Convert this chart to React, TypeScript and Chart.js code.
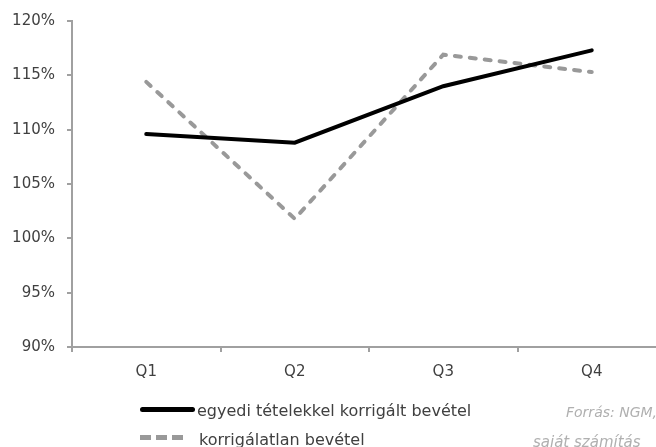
import React, { useEffect, useRef } from "react";
import { Chart, registerables } from "chart.js";

Chart.register(...registerables);

const categories = ["Q1", "Q2", "Q3", "Q4"];
const correctedRevenue = [109.6, 108.8, 114.0, 117.3];
const uncorrectedRevenue = [114.4, 101.8, 116.9, 115.3];
const seriesLabels = ["egyedi tételekkel korrigált bevétel", "korrigálatlan bevétel"];
const sourceLines = ["Forrás: NGM,", "saját számítás"];
const yMin = 90;
const yMax = 120;
const yStep = 5;

const FONT = "'DejaVu Sans', sans-serif";
const TEXT = "#404040";
const AXIS = "#a0a0a0";

export default function App() {
  const ref = useRef<HTMLCanvasElement | null>(null);

  useEffect(() => {
    if (!ref.current) return;
    const chart = new Chart(ref.current, {
      type: "line",
      data: {
        labels: categories,
        datasets: [
          {
            label: seriesLabels[0],
            data: correctedRevenue,
            borderColor: "#000000",
            borderWidth: 4,
            borderCapStyle: "round",
            borderJoinStyle: "miter",
            pointRadius: 0,
            tension: 0,
          },
          {
            label: seriesLabels[1],
            data: uncorrectedRevenue,
            borderColor: "#999999",
            borderWidth: 4,
            borderDash: [6, 9],
            borderCapStyle: "round",
            pointRadius: 0,
            tension: 0,
          },
        ],
      },
      options: {
        animation: false,
        responsive: false,
        maintainAspectRatio: false,
        layout: { padding: { top: 19, right: 14, left: 0, bottom: 0 } },
        plugins: { legend: { display: false }, tooltip: { enabled: false } },
        scales: {
          x: {
            offset: true,
            grid: {
              offset: true,
              drawOnChartArea: false,
              drawTicks: true,
              tickLength: 5,
              color: AXIS,
              lineWidth: 2,
            },
            border: { color: AXIS, width: 2 },
            ticks: { color: TEXT, font: { family: FONT, size: 15 }, padding: 11 },
            afterFit: (s: any) => {
              s.height = 100;
            },
          },
          y: {
            min: yMin,
            max: yMax,
            grid: {
              drawOnChartArea: false,
              drawTicks: true,
              tickLength: 5,
              color: AXIS,
              lineWidth: 2,
            },
            border: { color: AXIS, width: 2 },
            ticks: {
              stepSize: yStep,
              color: TEXT,
              font: { family: FONT, size: 15 },
              padding: 12,
              callback: (v: any) => `${v}%`,
            },
            afterFit: (s: any) => {
              s.width = 72;
            },
          },
        },
      },
    });
    return () => chart.destroy();
  }, []);

  return (
    <div
      style={{
        position: "fixed",
        left: 0,
        top: 0,
        width: 656,
        height: 447,
        overflow: "hidden",
        background: "#fff",
        fontFamily: FONT,
      }}
    >
      <canvas ref={ref} width={680} height={447} style={{ display: "block" }} />
      <div
        style={{
          position: "absolute",
          left: 140,
          top: 407,
          width: 55,
          height: 5,
          borderRadius: 2.5,
          background: "#000",
        }}
      />
      <div
        style={{
          position: "absolute",
          left: 140,
          top: 435,
          width: 45,
          height: 5,
          background:
            "repeating-linear-gradient(90deg, #999 0px, #999 11px, transparent 11px, transparent 16px)",
        }}
      />
      <div
        style={{
          position: "absolute",
          left: 197,
          top: 401,
          fontSize: 16,
          lineHeight: "20px",
          color: TEXT,
          whiteSpace: "nowrap",
        }}
      >
        {seriesLabels[0]}
      </div>
      <div
        style={{
          position: "absolute",
          left: 199,
          top: 430,
          fontSize: 16,
          lineHeight: "20px",
          color: TEXT,
          whiteSpace: "nowrap",
        }}
      >
        {seriesLabels[1]}
      </div>
      <div
        style={{
          position: "absolute",
          left: 566,
          top: 402,
          fontSize: 14,
          lineHeight: "20px",
          color: "#b0b0b0",
          fontStyle: "italic",
          whiteSpace: "nowrap",
        }}
      >
        {sourceLines[0]}
      </div>
      <div
        style={{
          position: "absolute",
          left: 533,
          top: 432,
          fontSize: 15,
          lineHeight: "20px",
          color: "#b0b0b0",
          fontStyle: "italic",
          whiteSpace: "nowrap",
        }}
      >
        {sourceLines[1]}
      </div>
    </div>
  );
}
